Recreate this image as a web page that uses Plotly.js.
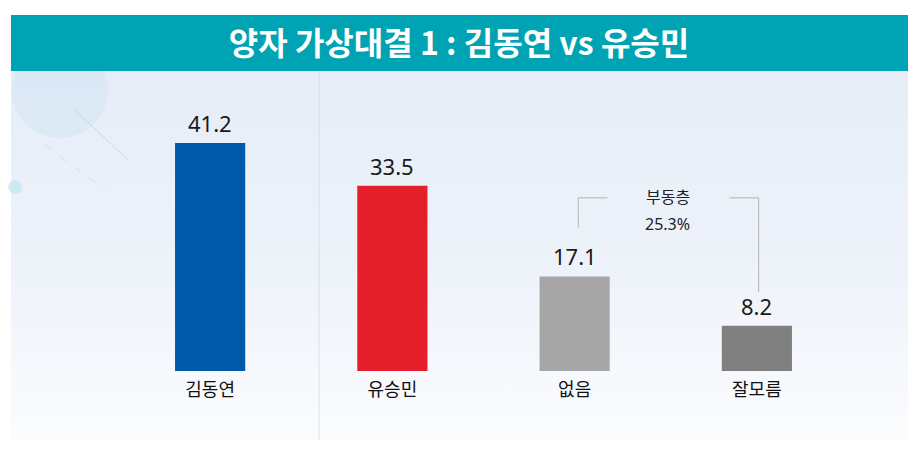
<!DOCTYPE html>
<html>
<head>
<meta charset="utf-8">
<script src="https://cdn.plot.ly/plotly-3.0.1.min.js"></script>
<style>
	html, body { margin: 0; padding: 0; background: #fff; }
	#chart {
		width: 918px;
		height: 455px;
		background-color: #fff;
		background-image: linear-gradient(#e6edf7, #eef3fa 55%, #fbfcfe);
		background-position: 11px 71px;
		background-size: 897px 369px;
		background-repeat: no-repeat;
	}
</style>
</head>
<body>
<div id="chart"></div>
<script>
// 양자 가상대결 1 : 김동연 vs 유승민 (%)
const categories = ['김동연', '유승민', '없음', '잘모름']
const values = [41.2, 33.5, 17.1, 8.2]
const barColours = ['#0059a8', '#e41e2b', '#a6a6a6', '#808080']
const undecidedLabel = '부동층'
const undecidedValue = 25.3

const font = '"Noto Sans CJK KR", "Noto Sans", sans-serif'

// pixel -> paper helpers (plot area 119..848 x 80..371)
const px = x => (x - 119) / 729
const py = y => (371 - y) / 291

Plotly.newPlot('chart', [
	{
		type: 'bar',
		x: categories,
		y: values,
		width: 0.385,
		marker: { color: barColours },
		hoverinfo: 'none',
	},
], {
	width: 918,
	height: 455,
	margin: { l: 119, r: 70, t: 80, b: 84 },
	paper_bgcolor: 'rgba(0,0,0,0)',
	plot_bgcolor: 'rgba(0,0,0,0)',
	showlegend: false,
	title: {
		text: '<b>양자 가상대결 1 : 김동연 vs 유승민</b>',
		font: { family: font, size: 32, color: '#ffffff' },
		x: 0.5,
		xref: 'container',
		y: 1 - 44 / 455,
		yref: 'container',
		yanchor: 'middle',
	},
	xaxis: {
		type: 'category',
		range: [-0.5, 3.5],
		showgrid: false,
		zeroline: false,
		showline: false,
		ticks: '',
		ticklabelstandoff: 6,
		tickfont: { family: font, size: 18, color: '#111' },
		fixedrange: true,
	},
	yaxis: {
		range: [0, 52.6],
		visible: false,
		fixedrange: true,
	},
	annotations: [
		...values.map((v, i) => ({
			x: categories[i],
			y: v,
			xref: 'x',
			yref: 'y',
			text: v.toFixed(1),
			showarrow: false,
			yanchor: 'bottom',
			yshift: 3,
			font: { family: '"Noto Sans", sans-serif', size: 22, color: '#1a1a1a' },
		})),
		{
			x: 2.51, y: 31.6, xref: 'x', yref: 'y',
			text: undecidedLabel, showarrow: false,
			font: { family: font, size: 16, color: '#222' },
		},
		{
			x: 2.51, y: 26.6, xref: 'x', yref: 'y',
			text: undecidedValue.toFixed(1) + '%', showarrow: false,
			font: { family: '"Noto Sans", sans-serif', size: 16, color: '#222' },
		},
	],
	shapes: [
		// faint background decorations
		{
			type: 'circle', xref: 'paper', yref: 'paper',
			x0: px(12), x1: px(108), y0: py(138), y1: py(42),
			fillcolor: 'rgba(195,222,242,0.3)', line: { width: 0 }, layer: 'below',
		},
		{
			type: 'line', xref: 'paper', yref: 'paper',
			x0: px(319), x1: px(319), y0: py(73), y1: py(440),
			line: { color: 'rgba(200,212,228,0.6)', width: 1 }, layer: 'below',
		},
		{
			type: 'line', xref: 'paper', yref: 'paper',
			x0: px(75), x1: px(128), y0: py(110), y1: py(160),
			line: { color: 'rgba(170,195,220,0.5)', width: 1 }, layer: 'below',
		},
		{
			type: 'line', xref: 'paper', yref: 'paper',
			x0: px(45), x1: px(105), y0: py(145), y1: py(190),
			line: { color: 'rgba(170,195,220,0.4)', width: 1, dash: 'dash' }, layer: 'below',
		},
		{
			type: 'circle', xref: 'paper', yref: 'paper',
			x0: px(8), x1: px(22), y0: py(194), y1: py(180),
			fillcolor: 'rgba(170,225,235,0.5)', line: { width: 0 }, layer: 'below',
		},
		// title bar
		{
			type: 'rect', xref: 'paper', yref: 'paper',
			x0: px(11), x1: px(908), y0: py(71), y1: py(15),
			fillcolor: '#00a3b3', line: { width: 0 }, layer: 'below',
		},
		// undecided bracket
		{
			type: 'path', xref: 'x', yref: 'y',
			path: 'M 2.02,25.9 L 2.02,31.3 L 2.18,31.3',
			line: { color: '#b4b4b4', width: 1 },
		},
		{
			type: 'path', xref: 'x', yref: 'y',
			path: 'M 2.85,31.3 L 3.01,31.3 L 3.01,14.3',
			line: { color: '#b4b4b4', width: 1 },
		},
	],
}, { displayModeBar: false, staticPlot: true })
</script>
</body>
</html>
